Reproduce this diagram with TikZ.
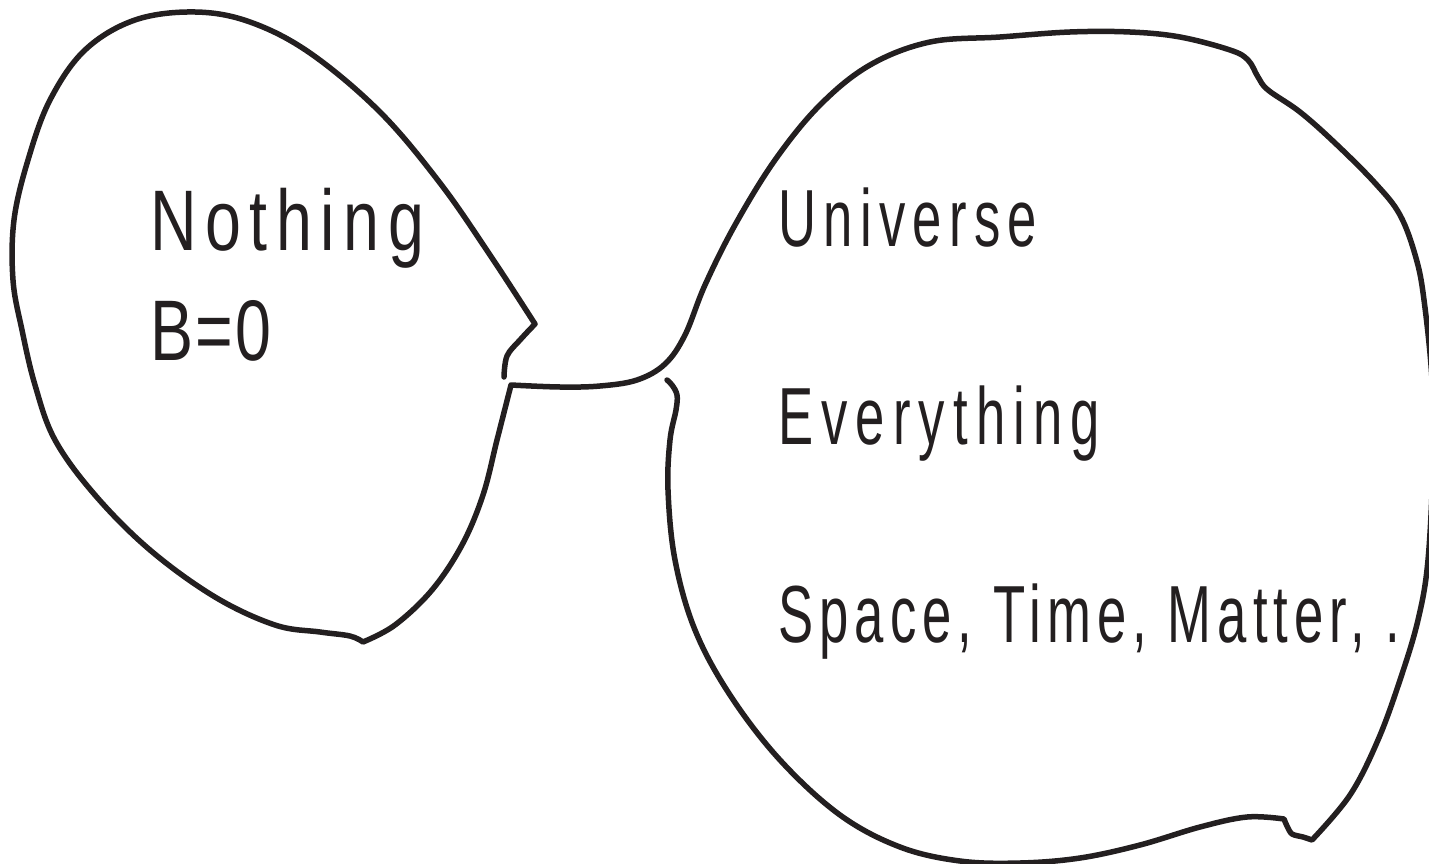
\documentclass[tikz,border=0pt]{standalone}
\usepackage{fontspec}
\newfontfamily\nothingfont[FakeStretch=0.75]{Liberation Sans}
\newfontfamily\universefont[FakeStretch=0.65]{Liberation Sans}
\definecolor{ink}{HTML}{231F20}
\tikzset{
  blob/.style={draw=ink, line width=5.5pt, line cap=round, line join=round},
  word/.style={anchor=base west, inner sep=0pt, text=ink},
  lword/.style={word, font=\nothingfont\addfontfeature{LetterSpace=#1}\fontsize{86}{86}\selectfont},
  rword/.style={word, font=\universefont\addfontfeature{LetterSpace=#1}\fontsize{81}{81}\selectfont}
}

\begin{document}
\begin{tikzpicture}[x=1pt, y=-1pt]
\useasboundingbox (0,0) rectangle (1429,864);
% outline: left bubble, neck, right bubble
\draw[blob] plot[smooth, tension=.6] coordinates {(504,377) (507,356) (520,340) (535,324)}
  -- plot[smooth, tension=.6] coordinates {(535,324) (490,255) (440,183) (380,112) (310,53) (250,22) (195,12) (135,20) (85,50) (50,100) (28,160) (14,220) (13,280) (22,330) (35,385) (55,440) (95,495) (150,550) (215,597) (275,625) (320,632) (350,636) (363,642)}
  -- plot[smooth, tension=.6] coordinates {(363,642) (395,625) (432,590) (462,545) (483,495) (497,440) (511,385)}
  -- plot[smooth, tension=.6] coordinates {(511,385) (560,387) (600,386) (637,380) (665,364) (685,335) (705,285) (735,225) (775,160) (820,105) (870,65) (930,42) (1000,37) (1070,32) (1130,32) (1180,37) (1230,50) (1248,60) (1258,77) (1268,90) (1300,112) (1335,143) (1375,183) (1400,215) (1416,258) (1424,300) (1432,380) (1433,460) (1428,560) (1418,620) (1400,680) (1378,740) (1350,795) (1312,840)}
  -- plot[smooth, tension=.5] coordinates {(1312,840) (1303,837) (1292,834) (1287,826) (1284,819)}
  -- plot[smooth, tension=.6] coordinates {(1284,819) (1247,817) (1200,827) (1140,845) (1080,858) (1020,863) (960,861) (900,847) (840,815) (780,760) (730,695) (695,630) (675,560) (668,490) (670,440) (676,410) (677,395) (672,385) (667,380)};
\node[lword=10] (nothing) at (150,250) {Nothing};
\node[lword=3] (bzero) at (150,360) {B=0};
\node[rword=9] (universe) at (778,246) {Universe};
\node[rword=10] (everything) at (778,444) {Everything};
\node[rword=7.5] (stm) at (778,642) {Space, Time, Matter, .};
\end{tikzpicture}
\end{document}
